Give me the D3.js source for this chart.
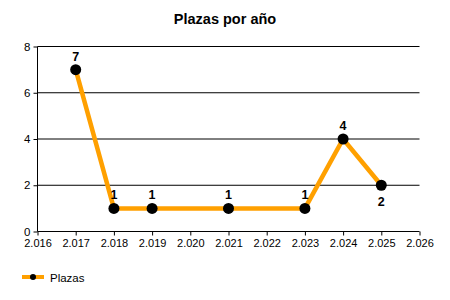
<!DOCTYPE html>
<html><head><meta charset="utf-8">
<script src="https://cdn.jsdelivr.net/npm/d3@7"></script>
<style>body{margin:0;background:#fff}svg{display:block;font-family:"Liberation Sans",Arial,sans-serif}</style>
</head><body>
<script>
const years = [2017, 2018, 2019, 2021, 2023, 2024, 2025];
const plazas = [7, 1, 1, 1, 1, 4, 2];
const labelBelow = [false, false, false, false, false, false, true];
const xTicks = [2016, 2017, 2018, 2019, 2020, 2021, 2022, 2023, 2024, 2025, 2026];
const xTickLabels = ["2.016","2.017","2.018","2.019","2.020","2.021","2.022","2.023","2.024","2.025","2.026"];
const yTicks = [0, 2, 4, 6, 8];
const title = "Plazas por año";
const seriesName = "Plazas";

const W = 450, H = 300;
const svg = d3.select("body").append("svg").attr("width", W).attr("height", H);
const x = d3.scaleLinear().domain([2016, 2026]).range([37.5, 419.5]);
const y = d3.scaleLinear().domain([0, 8]).range([231.5, 46.5]);

svg.append("text").attr("x", 225).attr("y", 24).attr("text-anchor", "middle")
  .attr("font-size", 14.5).attr("font-weight", "bold").text(title);

// gridlines
svg.append("g").selectAll("line").data(yTicks.filter(d => d > 0)).join("line")
  .attr("x1", x(2016)).attr("x2", x(2026)).attr("y1", d => y(d)).attr("y2", d => y(d))
  .attr("stroke", "#000").attr("stroke-width", 1);

const ya = svg.append("g").attr("transform", `translate(${x(2016)},0)`)
  .call(d3.axisLeft(y).tickValues(yTicks).tickSize(4).tickPadding(3).tickFormat(d3.format("d")));
ya.select(".domain").attr("stroke", "#000").attr("d", `M0,${y(0)}V${y(8)}`);
ya.selectAll("text").attr("font-size", 11.5).attr("font-family", "Liberation Sans, Arial, sans-serif").attr("fill", "#000");

const xa = svg.append("g").attr("transform", `translate(0,${y(0)})`)
  .call(d3.axisBottom(x).tickValues(xTicks).tickSize(4).tickPadding(4).tickFormat((d, i) => xTickLabels[i]));
xa.select(".domain").attr("stroke", "#000").attr("d", `M${x(2016)},0H${x(2026)}`);
xa.selectAll("text").attr("font-size", 11).attr("font-family", "Liberation Sans, Arial, sans-serif").attr("fill", "#000");

const data = years.map((yr, i) => ({yr, v: plazas[i], below: labelBelow[i]}));
svg.append("path").datum(data)
  .attr("d", d3.line().x(d => x(d.yr)).y(d => y(d.v)))
  .attr("fill", "none").attr("stroke", "#FFA000").attr("stroke-width", 4.5).attr("stroke-linejoin", "miter");

svg.append("g").selectAll("circle").data(data).join("circle")
  .attr("cx", d => x(d.yr)).attr("cy", d => y(d.v)).attr("r", 5.5).attr("fill", "#000");

svg.append("g").selectAll("text").data(data).join("text")
  .attr("x", d => x(d.yr)).attr("y", d => d.below ? y(d.v) + 21 : y(d.v) - 9)
  .attr("text-anchor", "middle").attr("font-size", 12.5).attr("font-weight", "bold")
  .text(d => d.v);

// legend
const lg = svg.append("g");
lg.append("line").attr("x1", 22).attr("x2", 44).attr("y1", 277).attr("y2", 277)
  .attr("stroke", "#FFA000").attr("stroke-width", 4);
lg.append("circle").attr("cx", 33).attr("cy", 277).attr("r", 3).attr("fill", "#000");
lg.append("text").attr("x", 50).attr("y", 281.5).attr("font-size", 11.5).text(seriesName);
</script>
</body></html>
